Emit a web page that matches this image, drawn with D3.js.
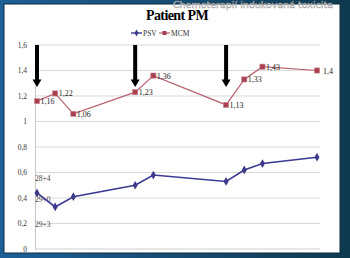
<!DOCTYPE html>
<html lang="cs">
<head>
<meta charset="UTF-8" />
<title>Patient PM</title>
<style>
  html, body { margin: 0; padding: 0; background: #0f3a52; }
  svg { display: block; }
</style>
</head>
<body>
<svg id="chart"></svg>
<script src="https://cdnjs.cloudflare.com/ajax/libs/d3/7.8.5/d3.min.js"></script>
<script>
  // x = time of measurement (weeks from first sample)
  const weeks = [0, 1, 2, 5.4, 6.4, 10.4, 11.4, 12.4, 15.4];
  const psv = [0.44, 0.33, 0.41, 0.5, 0.58, 0.53, 0.62, 0.67, 0.72];
  const mcm = [1.16, 1.22, 1.06, 1.23, 1.36, 1.13, 1.33, 1.43, 1.4];
  const yTicks = [0, 0.2, 0.4, 0.6, 0.8, 1, 1.2, 1.4, 1.6];
  // chemo cycles (arrows)
  const chemoWeeks = [0, 5.4, 10.4];
  // gestational age notes
  const gaLabels = ["28+4", "29+0", "29+3"];
  const gaValues = [0.56, 0.39, 0.2];

  const width = 350, height = 258;
  const margin = { left: 37, right: 33, top: 45, bottom: 9 };
  const serif = "'Liberation Serif', 'DejaVu Serif', serif";

  const svg = d3.select("#chart").attr("width", width).attr("height", height);

  // frame
  const defs = svg.append("defs");
  const grad = defs.append("linearGradient").attr("id", "bg").attr("x1", 0).attr("x2", 1);
  grad.append("stop").attr("offset", 0).attr("stop-color", "#1d5f98");
  grad.append("stop").attr("offset", 0.5).attr("stop-color", "#174b72");
  grad.append("stop").attr("offset", 1).attr("stop-color", "#0e3a4e");
  svg.append("rect").attr("width", width).attr("height", height).attr("fill", "url(#bg)");
  svg.append("rect").attr("x", 4).attr("y", 4).attr("width", 336).attr("height", 249)
    .attr("fill", "#fff").attr("stroke", "#0a2a3c").attr("stroke-width", 1);

  const x = d3.scaleLinear().domain([0, 15.4]).range([margin.left, width - margin.right]);
  const y = d3.scaleLinear().domain([0, 1.6]).range([height - margin.bottom, margin.top]);
  const fmt = (v) => String(v).replace(".", ",");

  // gridlines
  svg.append("g")
    .selectAll("line")
    .data(yTicks.filter((d) => d > 0))
    .join("line")
    .attr("x1", 35).attr("x2", 320)
    .attr("y1", (d) => y(d)).attr("y2", (d) => y(d))
    .attr("stroke", "#d9d9d9").attr("stroke-width", 1.2);
  svg.append("line")
    .attr("x1", 35).attr("x2", 320).attr("y1", y(0)).attr("y2", y(0))
    .attr("stroke", "#cfcfcf");

  // y axis
  const yAxis = d3.axisLeft(y).tickValues(yTicks).tickFormat(fmt).tickSize(0).tickPadding(8);
  const ya = svg.append("g").attr("transform", "translate(35,0)").call(yAxis);
  ya.select(".domain").attr("stroke", "#c8c8c8");
  ya.selectAll("text").attr("font-family", serif).attr("font-size", 7.5).attr("fill", "#333");

  // gestational age notes
  svg.append("g")
    .selectAll("text")
    .data(gaLabels)
    .join("text")
    .attr("x", 35).attr("y", (d, i) => y(gaValues[i]) + 3)
    .attr("font-family", serif).attr("font-size", 7.5).attr("fill", "#444")
    .text((d) => d);

  const line = d3.line().x((d, i) => x(weeks[i])).y((d) => y(d));

  // PSV
  svg.append("path").datum(psv).attr("d", line)
    .attr("fill", "none").attr("stroke", "#3b3a94").attr("stroke-width", 1.6);
  svg.append("g").selectAll("path")
    .data(psv).join("path")
    .attr("d", d3.symbol(d3.symbolDiamond, 22))
    .attr("transform", (d, i) => `translate(${x(weeks[i])},${y(d)})`)
    .attr("fill", "#3d3a8c");

  // MCM
  svg.append("path").datum(mcm).attr("d", line)
    .attr("fill", "none").attr("stroke", "#b8606e").attr("stroke-width", 1.2);
  svg.append("g").selectAll("rect")
    .data(mcm).join("rect")
    .attr("x", (d, i) => x(weeks[i]) - 2.6).attr("y", (d) => y(d) - 2.6)
    .attr("width", 5.2).attr("height", 5.2)
    .attr("fill", "#a8404f").attr("stroke", "#c98a93").attr("stroke-width", 0.6);
  svg.append("g").selectAll("text")
    .data(mcm).join("text")
    .attr("x", (d, i) => x(weeks[i]) + (i === mcm.length - 1 ? 6 : 3.5))
    .attr("y", (d) => y(d) + 3)
    .attr("font-family", serif).attr("font-size", 8).attr("fill", "#222")
    .text(fmt);

  // chemo arrows
  const arrows = svg.append("g");
  chemoWeeks.forEach((w) => {
    const ax = x(w);
    arrows.append("rect")
      .attr("x", ax - 2).attr("y", y(1.6)).attr("width", 4).attr("height", y(1.32) - y(1.6))
      .attr("fill", "#000");
    arrows.append("path")
      .attr("d", `M${ax - 4.5},${y(1.33)} L${ax + 4.5},${y(1.33)} L${ax},${y(1.27)} Z`)
      .attr("fill", "#000");
  });

  // title
  svg.append("text")
    .attr("x", 177).attr("y", 20).attr("text-anchor", "middle")
    .attr("font-family", serif).attr("font-weight", "bold").attr("font-size", 14)
    .attr("letter-spacing", -0.6).attr("fill", "#000")
    .text("Patient PM");

  // legend
  const legend = svg.append("g").attr("transform", "translate(0,33)");
  legend.append("line").attr("x1", 131).attr("x2", 142).attr("stroke", "#3b3a94").attr("stroke-width", 1.4);
  legend.append("path").attr("d", d3.symbol(d3.symbolDiamond, 14)).attr("transform", "translate(136.5,0)").attr("fill", "#3d3a8c");
  legend.append("text").attr("x", 143).attr("y", 2.5).attr("font-family", serif).attr("font-size", 7.5).attr("fill", "#333").text("PSV");
  legend.append("line").attr("x1", 159).attr("x2", 170).attr("stroke", "#b8606e").attr("stroke-width", 1.2);
  legend.append("rect").attr("x", 162.5).attr("y", -2).attr("width", 4).attr("height", 4).attr("fill", "#a8404f");
  legend.append("text").attr("x", 171).attr("y", 2.5).attr("font-family", serif).attr("font-size", 7.5).attr("fill", "#333").text("MCM");

  // watermark
  svg.append("text")
    .attr("x", 253).attr("y", 8).attr("text-anchor", "middle")
    .attr("font-family", "'DejaVu Sans', sans-serif").attr("font-size", 9.5)
    .attr("fill", "#d8d8d8").attr("stroke", "#8a8a8a").attr("stroke-width", 0.3)
    .text("Chemoterapií indukovaná toxicita");
</script>
</body>
</html>
